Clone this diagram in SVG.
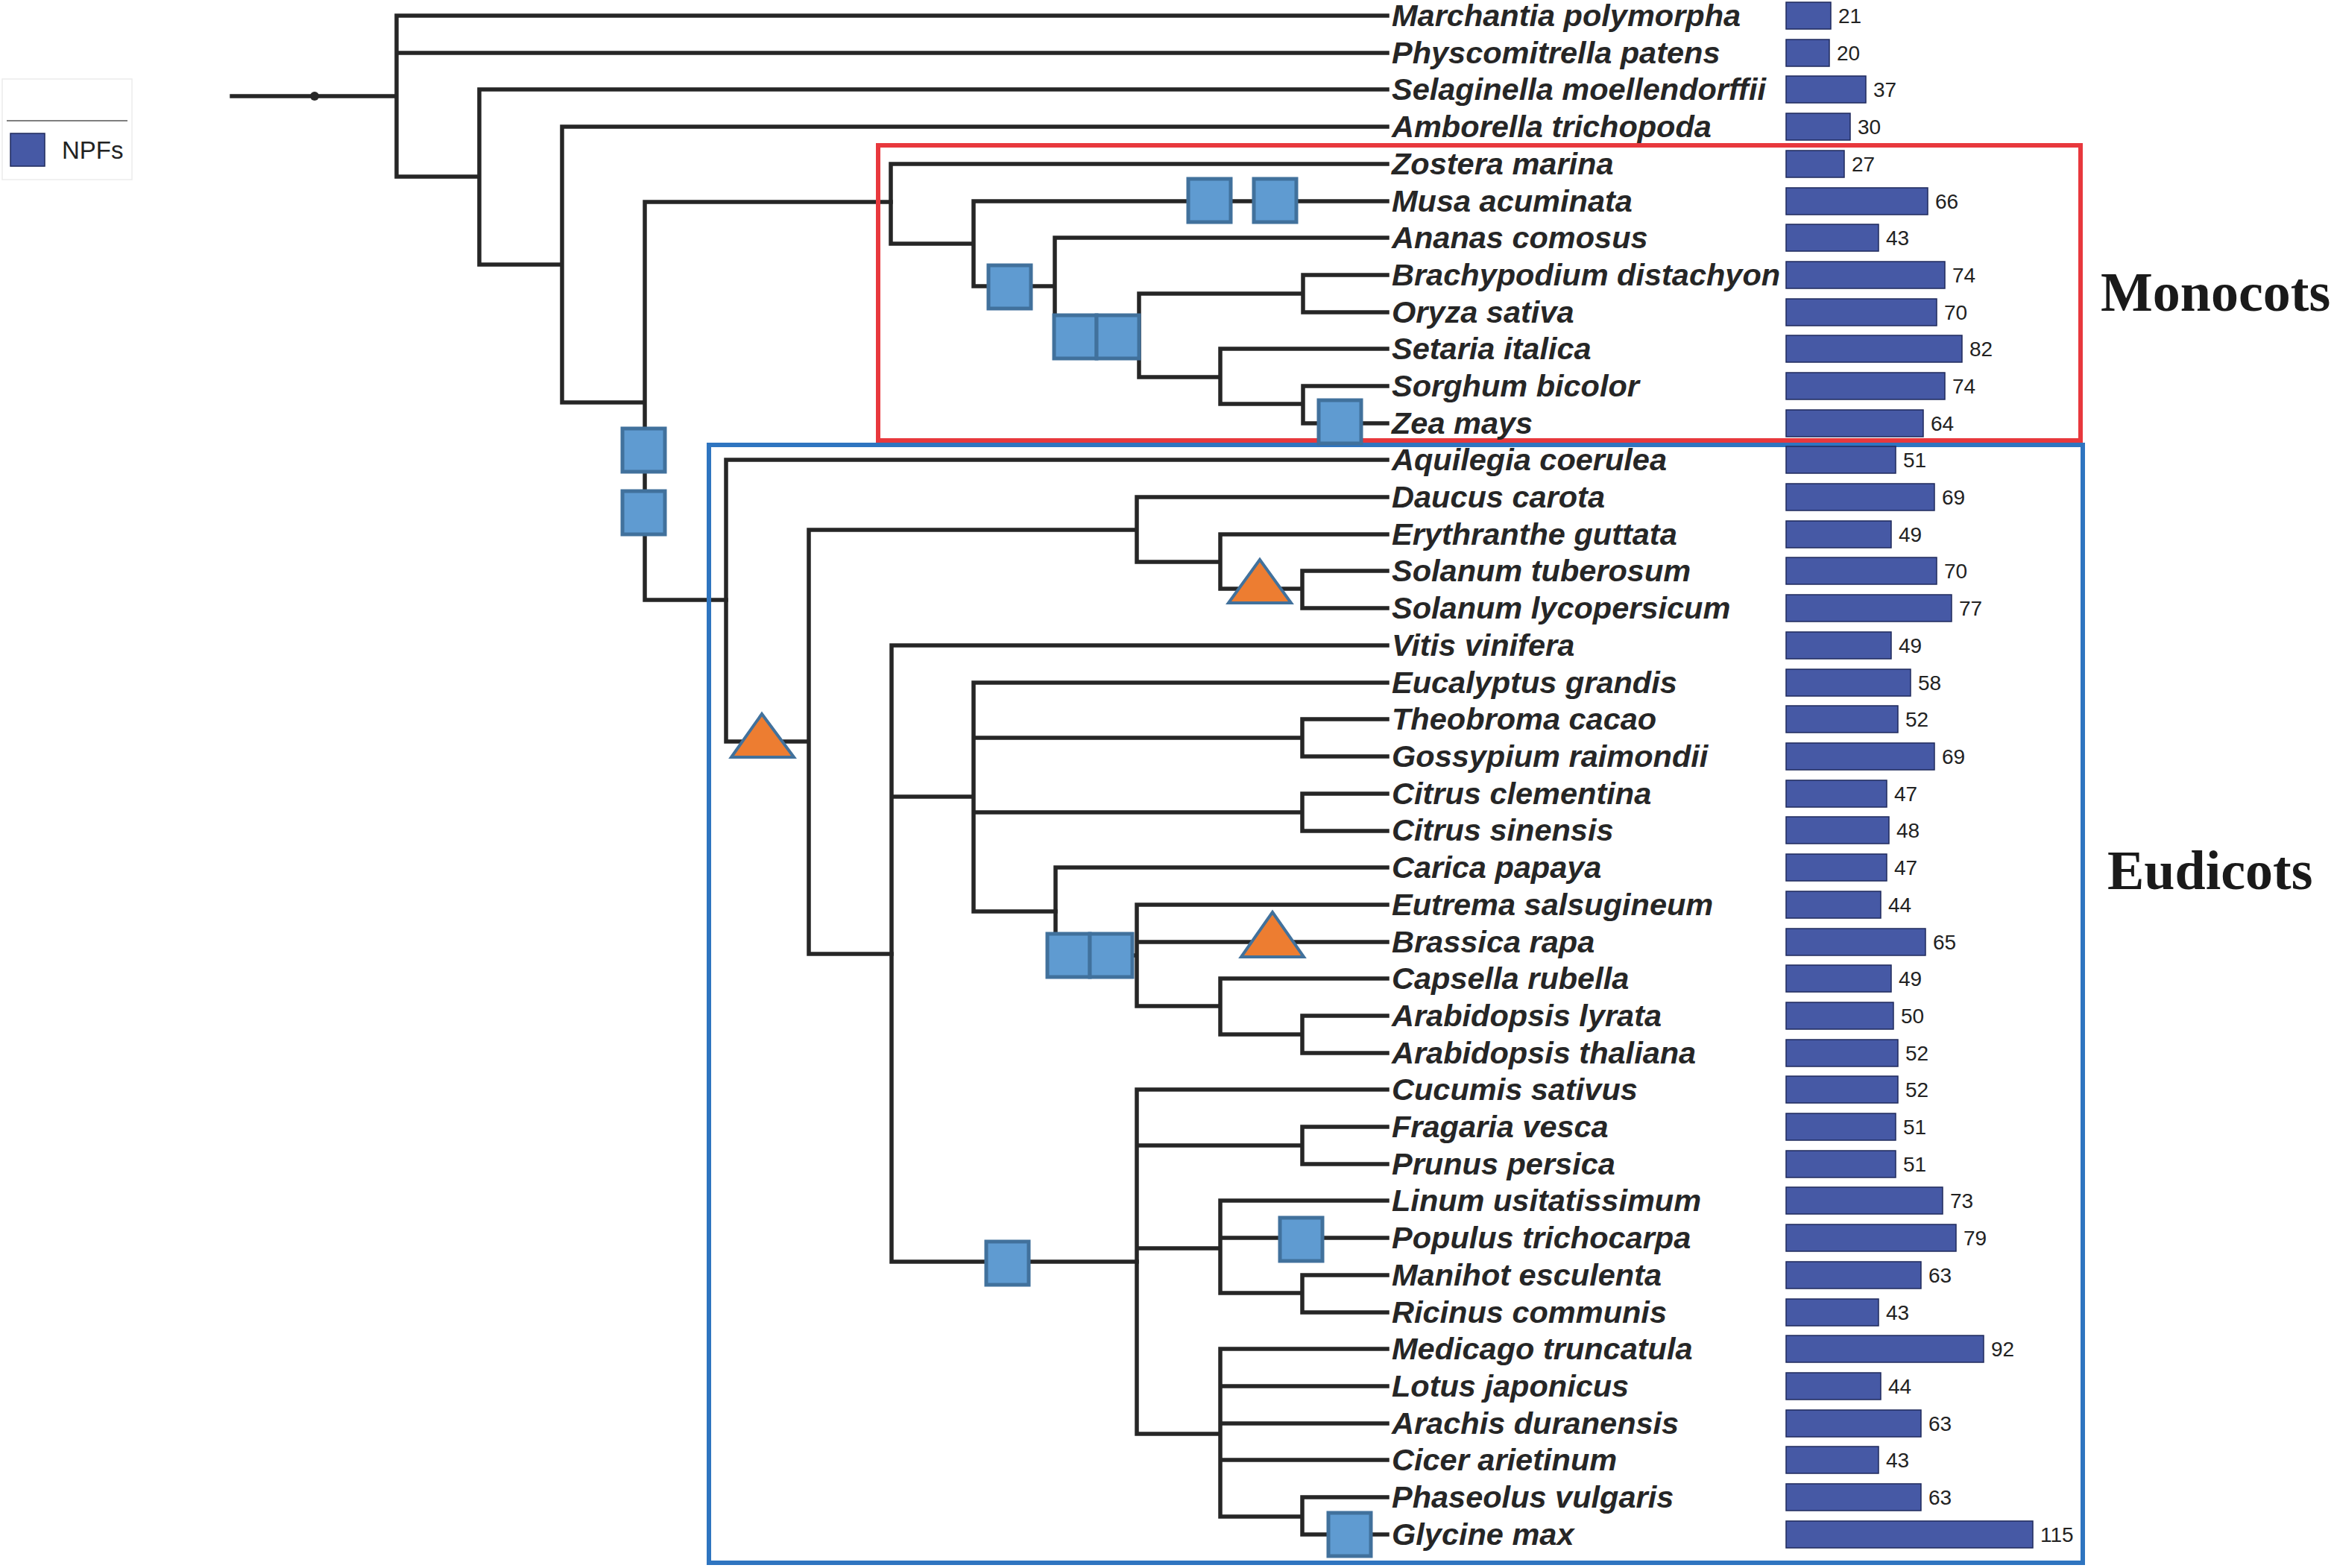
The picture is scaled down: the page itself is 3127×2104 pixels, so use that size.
<svg xmlns="http://www.w3.org/2000/svg" width="3127" height="2104" viewBox="0 0 3127 2104">
<style>
.br{fill:none;stroke:#262626;stroke-width:5.5;stroke-linecap:square}
.tx{font-family:"Liberation Sans",Arial,sans-serif;font-weight:bold;font-style:italic;font-size:41.5px;fill:#262626}
.nm{font-family:"Liberation Sans",Arial,sans-serif;font-size:28px;fill:#222}
.bar{fill:#4659a5;stroke:#1f2a5c;stroke-width:1.5}
.sq{fill:#5f9bd1;stroke:#41719c;stroke-width:5}
.tri{fill:#ed7d31;stroke:#41719c;stroke-width:4;stroke-linejoin:miter}
.clade{font-family:"Liberation Serif","Times New Roman",serif;font-weight:bold;font-size:74px;fill:#1a1a1a}
</style>
<rect width="3127" height="2104" fill="#fff"/>
<g id="legend">
<rect x="3" y="106" width="174" height="135" fill="#fff" stroke="#ececec" stroke-width="1.5"/>
<line x1="9" y1="162" x2="171" y2="162" stroke="#555" stroke-width="1.5"/>
<rect x="14" y="179" width="46" height="44" class="bar"/>
<text x="83" y="213" font-family="Liberation Sans,Arial,sans-serif" font-size="33" fill="#222">NPFs</text>
</g>
<g id="connectors" class="br">
<path d="M311 129H532M532 21V237M532 21H1861M532 71H1861M532 237H643M643 120V355M643 120H1861M643 355H754M754 170V540M754 170H1861M754 540H865M865 271V805M865 271H1195M865 805H974"/>
<path d="M1195 220V327M1195 220H1861M1195 327H1306M1306 270V384M1306 270H1861M1306 384H1415M1415 319V452M1415 319H1861M1415 452H1528M1528 394V506M1528 394H1748M1528 506H1637M1748 369V419M1748 369H1861M1748 419H1861M1637 468V542M1637 468H1861M1637 542H1748M1748 518V568M1748 518H1861M1748 568H1861"/>
<path d="M974 617V995M974 617H1861M974 995H1085M1085 711V1280M1085 711H1525M1085 1280H1196M1525 667V754M1525 667H1861M1525 754H1637M1637 717V790M1637 717H1861M1637 790H1747M1747 766V816M1747 766H1861M1747 816H1861"/>
<path d="M1196 866V1693M1196 866H1861M1196 1069H1306M1196 1693H1525M1306 916V1223M1306 916H1861M1306 990H1747M1306 1090H1747M1306 1223H1416M1747 965V1015M1747 965H1861M1747 1015H1861M1747 1065V1115M1747 1065H1861M1747 1115H1861"/>
<path d="M1416 1164V1282M1416 1164H1861M1416 1282H1525M1525 1214V1350M1525 1214H1861M1525 1264H1861M1525 1350H1637M1637 1313V1388M1637 1313H1861M1637 1388H1747M1747 1363V1413M1747 1363H1861M1747 1413H1861"/>
<path d="M1525 1462V1924M1525 1462H1861M1525 1537H1747M1525 1675H1637M1525 1924H1637M1747 1512V1562M1747 1512H1861M1747 1562H1861M1637 1611V1735M1637 1611H1861M1637 1661H1861M1637 1735H1747M1747 1711V1761M1747 1711H1861M1747 1761H1861M1637 1810V2035M1637 1810H1861M1637 1860H1861M1637 1910H1861M1637 1959H1861M1637 2035H1747M1747 2009V2059M1747 2009H1861M1747 2059H1861"/>
</g>
<circle cx="422" cy="129" r="6" fill="#262626"/>
<g id="monocots-box"><rect x="1178" y="195" width="1613" height="396" fill="none" stroke="#e8383d" stroke-width="6"/></g>
<g id="eudicots-box"><rect x="951" y="597" width="1843" height="1500" fill="none" stroke="#2f75c0" stroke-width="6"/></g>
<g id="events">
<rect class="sq" x="835" y="575" width="57" height="58"/>
<rect class="sq" x="835" y="659" width="57" height="58"/>
<rect class="sq" x="1594" y="240" width="57" height="58"/>
<rect class="sq" x="1682" y="240" width="57" height="58"/>
<rect class="sq" x="1326" y="356" width="57" height="58"/>
<rect class="sq" x="1414" y="423" width="57" height="58"/>
<rect class="sq" x="1471" y="423" width="57" height="58"/>
<rect class="sq" x="1769" y="537" width="57" height="58"/>
<rect class="sq" x="1405" y="1253" width="57" height="58"/>
<rect class="sq" x="1462" y="1253" width="57" height="58"/>
<rect class="sq" x="1323" y="1666" width="57" height="58"/>
<rect class="sq" x="1717" y="1634" width="57" height="58"/>
<rect class="sq" x="1782" y="2030" width="57" height="58"/>
<polygon class="tri" points="1022,958 1065,1016 981,1016"/>
<polygon class="tri" points="1690,751 1732,809 1648,809"/>
<polygon class="tri" points="1707,1224 1749,1284 1665,1284"/>
</g>
<g id="taxa">
<g id="t0"><text class="tx" x="1867" y="35">Marchantia polymorpha</text><rect class="bar" x="2396" y="3" width="60" height="36"/><text class="nm" x="2466" y="31">21</text></g>
<g id="t1"><text class="tx" x="1867" y="85">Physcomitrella patens</text><rect class="bar" x="2396" y="53" width="58" height="36"/><text class="nm" x="2464" y="81">20</text></g>
<g id="t2"><text class="tx" x="1867" y="134">Selaginella moellendorffii</text><rect class="bar" x="2396" y="102" width="107" height="36"/><text class="nm" x="2513" y="130">37</text></g>
<g id="t3"><text class="tx" x="1867" y="184">Amborella trichopoda</text><rect class="bar" x="2396" y="152" width="86" height="36"/><text class="nm" x="2492" y="180">30</text></g>
<g id="t4"><text class="tx" x="1867" y="234">Zostera marina</text><rect class="bar" x="2396" y="202" width="78" height="36"/><text class="nm" x="2484" y="230">27</text></g>
<g id="t5"><text class="tx" x="1867" y="284">Musa acuminata</text><rect class="bar" x="2396" y="252" width="190" height="36"/><text class="nm" x="2596" y="280">66</text></g>
<g id="t6"><text class="tx" x="1867" y="333">Ananas comosus</text><rect class="bar" x="2396" y="301" width="124" height="36"/><text class="nm" x="2530" y="329">43</text></g>
<g id="t7"><text class="tx" x="1867" y="383">Brachypodium distachyon</text><rect class="bar" x="2396" y="351" width="213" height="36"/><text class="nm" x="2619" y="379">74</text></g>
<g id="t8"><text class="tx" x="1867" y="433">Oryza sativa</text><rect class="bar" x="2396" y="401" width="202" height="36"/><text class="nm" x="2608" y="429">70</text></g>
<g id="t9"><text class="tx" x="1867" y="482">Setaria italica</text><rect class="bar" x="2396" y="450" width="236" height="36"/><text class="nm" x="2642" y="478">82</text></g>
<g id="t10"><text class="tx" x="1867" y="532">Sorghum bicolor</text><rect class="bar" x="2396" y="500" width="213" height="36"/><text class="nm" x="2619" y="528">74</text></g>
<g id="t11"><text class="tx" x="1867" y="582">Zea mays</text><rect class="bar" x="2396" y="550" width="184" height="36"/><text class="nm" x="2590" y="578">64</text></g>
<g id="t12"><text class="tx" x="1867" y="631">Aquilegia coerulea</text><rect class="bar" x="2396" y="599" width="147" height="36"/><text class="nm" x="2553" y="627">51</text></g>
<g id="t13"><text class="tx" x="1867" y="681">Daucus carota</text><rect class="bar" x="2396" y="649" width="199" height="36"/><text class="nm" x="2605" y="677">69</text></g>
<g id="t14"><text class="tx" x="1867" y="731">Erythranthe guttata</text><rect class="bar" x="2396" y="699" width="141" height="36"/><text class="nm" x="2547" y="727">49</text></g>
<g id="t15"><text class="tx" x="1867" y="780">Solanum tuberosum</text><rect class="bar" x="2396" y="748" width="202" height="36"/><text class="nm" x="2608" y="776">70</text></g>
<g id="t16"><text class="tx" x="1867" y="830">Solanum lycopersicum</text><rect class="bar" x="2396" y="798" width="222" height="36"/><text class="nm" x="2628" y="826">77</text></g>
<g id="t17"><text class="tx" x="1867" y="880">Vitis vinifera</text><rect class="bar" x="2396" y="848" width="141" height="36"/><text class="nm" x="2547" y="876">49</text></g>
<g id="t18"><text class="tx" x="1867" y="930">Eucalyptus grandis</text><rect class="bar" x="2396" y="898" width="167" height="36"/><text class="nm" x="2573" y="926">58</text></g>
<g id="t19"><text class="tx" x="1867" y="979">Theobroma cacao</text><rect class="bar" x="2396" y="947" width="150" height="36"/><text class="nm" x="2556" y="975">52</text></g>
<g id="t20"><text class="tx" x="1867" y="1029">Gossypium raimondii</text><rect class="bar" x="2396" y="997" width="199" height="36"/><text class="nm" x="2605" y="1025">69</text></g>
<g id="t21"><text class="tx" x="1867" y="1079">Citrus clementina</text><rect class="bar" x="2396" y="1047" width="135" height="36"/><text class="nm" x="2541" y="1075">47</text></g>
<g id="t22"><text class="tx" x="1867" y="1128">Citrus sinensis</text><rect class="bar" x="2396" y="1096" width="138" height="36"/><text class="nm" x="2544" y="1124">48</text></g>
<g id="t23"><text class="tx" x="1867" y="1178">Carica papaya</text><rect class="bar" x="2396" y="1146" width="135" height="36"/><text class="nm" x="2541" y="1174">47</text></g>
<g id="t24"><text class="tx" x="1867" y="1228">Eutrema salsugineum</text><rect class="bar" x="2396" y="1196" width="127" height="36"/><text class="nm" x="2533" y="1224">44</text></g>
<g id="t25"><text class="tx" x="1867" y="1278">Brassica rapa</text><rect class="bar" x="2396" y="1246" width="187" height="36"/><text class="nm" x="2593" y="1274">65</text></g>
<g id="t26"><text class="tx" x="1867" y="1327">Capsella rubella</text><rect class="bar" x="2396" y="1295" width="141" height="36"/><text class="nm" x="2547" y="1323">49</text></g>
<g id="t27"><text class="tx" x="1867" y="1377">Arabidopsis lyrata</text><rect class="bar" x="2396" y="1345" width="144" height="36"/><text class="nm" x="2550" y="1373">50</text></g>
<g id="t28"><text class="tx" x="1867" y="1427">Arabidopsis thaliana</text><rect class="bar" x="2396" y="1395" width="150" height="36"/><text class="nm" x="2556" y="1423">52</text></g>
<g id="t29"><text class="tx" x="1867" y="1476">Cucumis sativus</text><rect class="bar" x="2396" y="1444" width="150" height="36"/><text class="nm" x="2556" y="1472">52</text></g>
<g id="t30"><text class="tx" x="1867" y="1526">Fragaria vesca</text><rect class="bar" x="2396" y="1494" width="147" height="36"/><text class="nm" x="2553" y="1522">51</text></g>
<g id="t31"><text class="tx" x="1867" y="1576">Prunus persica</text><rect class="bar" x="2396" y="1544" width="147" height="36"/><text class="nm" x="2553" y="1572">51</text></g>
<g id="t32"><text class="tx" x="1867" y="1625">Linum usitatissimum</text><rect class="bar" x="2396" y="1593" width="210" height="36"/><text class="nm" x="2616" y="1621">73</text></g>
<g id="t33"><text class="tx" x="1867" y="1675">Populus trichocarpa</text><rect class="bar" x="2396" y="1643" width="228" height="36"/><text class="nm" x="2634" y="1671">79</text></g>
<g id="t34"><text class="tx" x="1867" y="1725">Manihot esculenta</text><rect class="bar" x="2396" y="1693" width="181" height="36"/><text class="nm" x="2587" y="1721">63</text></g>
<g id="t35"><text class="tx" x="1867" y="1775">Ricinus communis</text><rect class="bar" x="2396" y="1743" width="124" height="36"/><text class="nm" x="2530" y="1771">43</text></g>
<g id="t36"><text class="tx" x="1867" y="1824">Medicago truncatula</text><rect class="bar" x="2396" y="1792" width="265" height="36"/><text class="nm" x="2671" y="1820">92</text></g>
<g id="t37"><text class="tx" x="1867" y="1874">Lotus japonicus</text><rect class="bar" x="2396" y="1842" width="127" height="36"/><text class="nm" x="2533" y="1870">44</text></g>
<g id="t38"><text class="tx" x="1867" y="1924">Arachis duranensis</text><rect class="bar" x="2396" y="1892" width="181" height="36"/><text class="nm" x="2587" y="1920">63</text></g>
<g id="t39"><text class="tx" x="1867" y="1973">Cicer arietinum</text><rect class="bar" x="2396" y="1941" width="124" height="36"/><text class="nm" x="2530" y="1969">43</text></g>
<g id="t40"><text class="tx" x="1867" y="2023">Phaseolus vulgaris</text><rect class="bar" x="2396" y="1991" width="181" height="36"/><text class="nm" x="2587" y="2019">63</text></g>
<g id="t41"><text class="tx" x="1867" y="2073">Glycine max</text><rect class="bar" x="2396" y="2041" width="331" height="36"/><text class="nm" x="2737" y="2069">115</text></g>
</g>
<g id="clade-labels">
<text class="clade" x="2818" y="417">Monocots</text>
<text class="clade" x="2827" y="1193">Eudicots</text>
</g>
</svg>
